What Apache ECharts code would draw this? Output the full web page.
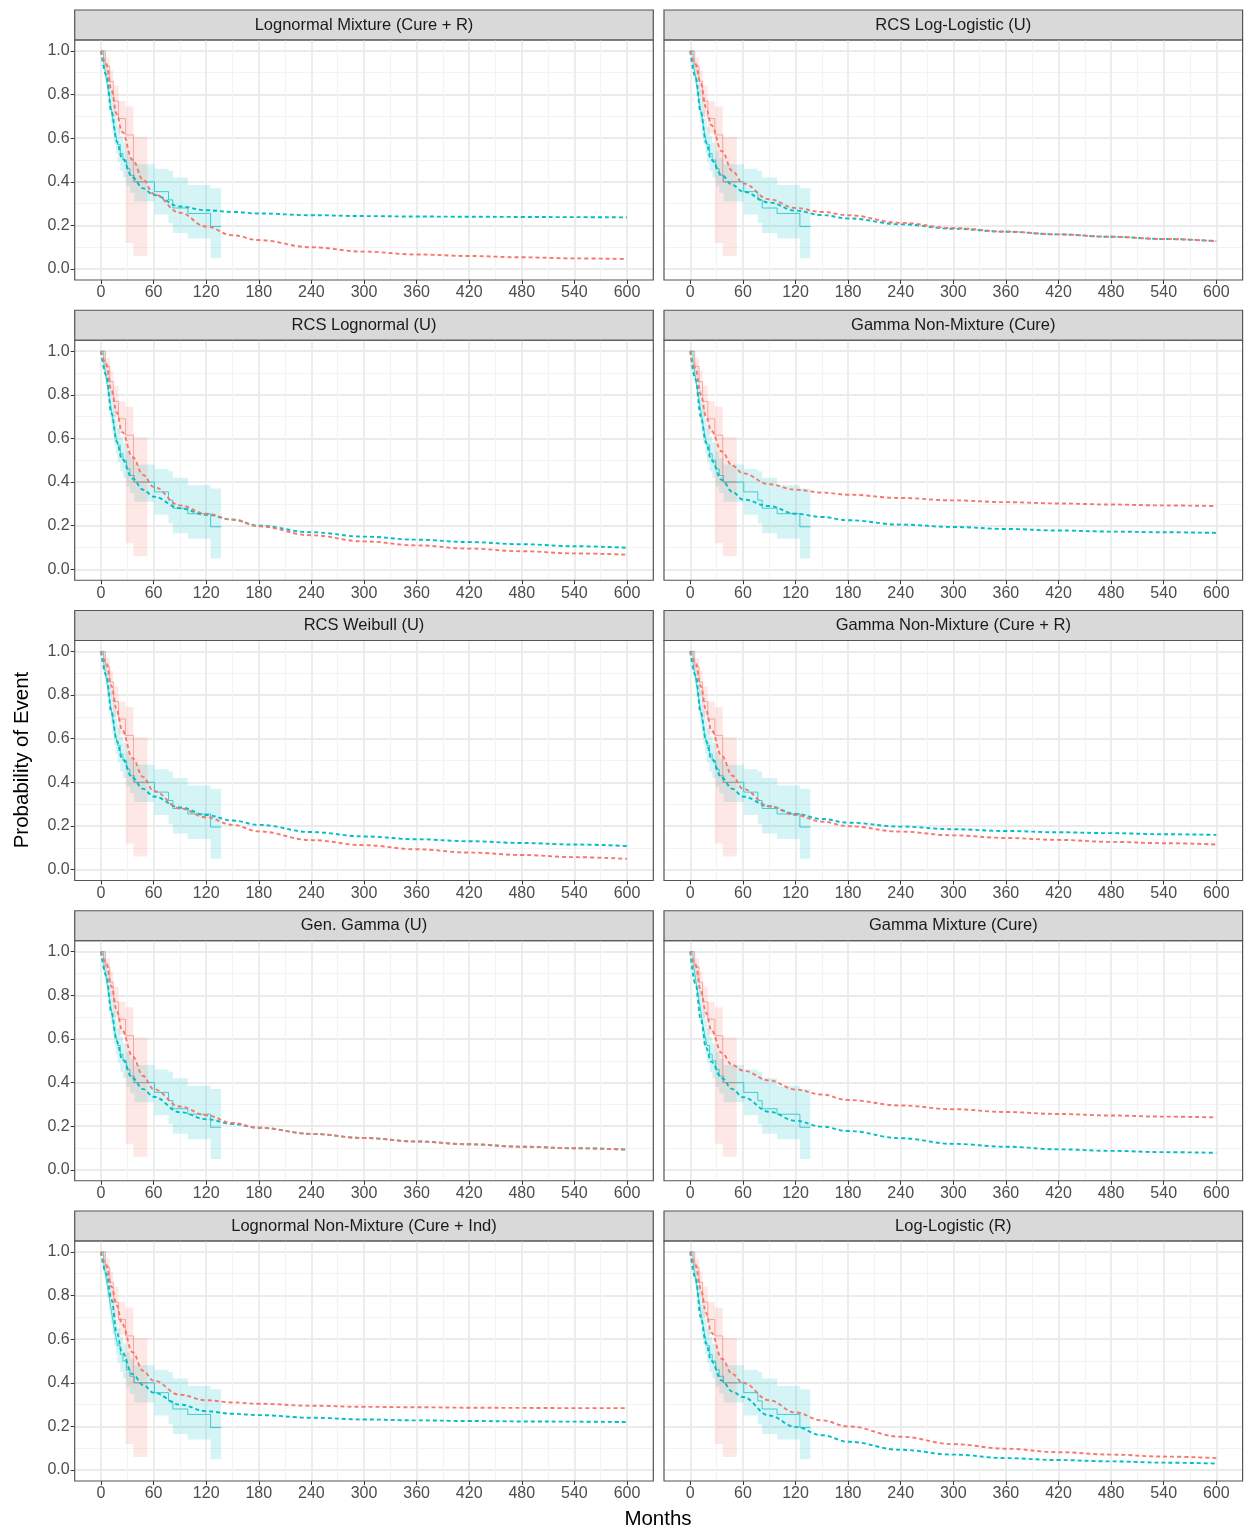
<!DOCTYPE html>
<html>
<head>
<meta charset="utf-8">
<script src="https://cdn.jsdelivr.net/npm/echarts@6/dist/echarts.min.js"></script>
<style>html,body{margin:0;padding:0;background:#fff}#c{width:1249px;height:1533px}</style>
</head>
<body>
<div id="c"></div>
<script>
// ---------------- DATA ----------------
const panelTitles = [
  'Lognormal Mixture (Cure + R)', 'RCS Log-Logistic (U)',
  'RCS Lognormal (U)', 'Gamma Non-Mixture (Cure)',
  'RCS Weibull (U)', 'Gamma Non-Mixture (Cure + R)',
  'Gen. Gamma (U)', 'Gamma Mixture (Cure)',
  'Lognormal Non-Mixture (Cure + Ind)', 'Log-Logistic (R)'
];
const xTicks = [0, 60, 120, 180, 240, 300, 360, 420, 480, 540, 600];
const yTicks = [0, 0.2, 0.4, 0.6, 0.8, 1.0];

// Kaplan-Meier estimates (same observed data in every panel)
const kmTealTime  = [0, 3, 5, 7, 9, 11, 13, 15, 17, 19, 22, 25, 29, 33, 38, 61, 77, 82, 99, 125, 137];
const kmTealSurv  = [1, 0.95, 0.90, 0.85, 0.80, 0.75, 0.70, 0.65, 0.61, 0.57, 0.53, 0.50, 0.46, 0.43, 0.40, 0.355, 0.317, 0.28, 0.255, 0.195, 0.195];
const kmTealLower = [1, 0.91, 0.85, 0.79, 0.73, 0.67, 0.62, 0.57, 0.53, 0.49, 0.45, 0.42, 0.38, 0.35, 0.31, 0.25, 0.21, 0.165, 0.14, 0.05, 0.05];
const kmTealUpper = [1, 0.99, 0.95, 0.91, 0.87, 0.82, 0.78, 0.73, 0.69, 0.65, 0.61, 0.58, 0.54, 0.51, 0.48, 0.46, 0.45, 0.42, 0.385, 0.37, 0.37];

const kmRedTime  = [0, 5, 10, 14, 20, 28, 37, 53];
const kmRedSurv  = [1, 0.93, 0.86, 0.77, 0.69, 0.615, 0.40, 0.40];
const kmRedLower = [1, 0.88, 0.80, 0.70, 0.62, 0.12, 0.06, 0.06];
const kmRedUpper = [1, 0.97, 0.91, 0.84, 0.77, 0.745, 0.607, 0.607];

// Fitted model curves, read at these months
const fitMonths = [0, 6, 12, 18, 24, 36, 48, 60, 90, 120, 150, 180, 240, 300, 360, 420, 480, 540, 600];

const fitTeal1 = [1, 0.89, 0.72, 0.585, 0.51, 0.42, 0.37, 0.34, 0.287, 0.27, 0.262, 0.255, 0.247, 0.243, 0.241, 0.240, 0.239, 0.238, 0.237];
const fitRed1  = [1, 0.94, 0.82, 0.71, 0.63, 0.50, 0.41, 0.345, 0.258, 0.195, 0.155, 0.133, 0.10, 0.08, 0.067, 0.06, 0.054, 0.049, 0.046];

const fitTeal2 = [1, 0.88, 0.72, 0.58, 0.50, 0.43, 0.385, 0.355, 0.305, 0.268, 0.248, 0.232, 0.205, 0.185, 0.171, 0.159, 0.148, 0.138, 0.128];
const fitRed2  = [1, 0.94, 0.85, 0.74, 0.66, 0.54, 0.45, 0.393, 0.32, 0.28, 0.262, 0.247, 0.212, 0.188, 0.172, 0.159, 0.148, 0.138, 0.128];

const fitTeal3 = [1, 0.89, 0.715, 0.585, 0.505, 0.416, 0.365, 0.333, 0.28, 0.25, 0.228, 0.20, 0.170, 0.150, 0.136, 0.125, 0.115, 0.106, 0.099];
const fitRed3  = [1, 0.94, 0.82, 0.72, 0.63, 0.515, 0.433, 0.378, 0.293, 0.255, 0.228, 0.197, 0.156, 0.128, 0.11, 0.095, 0.083, 0.073, 0.067];

const fitTeal4 = [1, 0.87, 0.70, 0.58, 0.50, 0.41, 0.355, 0.32, 0.29, 0.255, 0.24, 0.225, 0.205, 0.194, 0.185, 0.178, 0.173, 0.170, 0.167];
const fitRed4  = [1, 0.92, 0.80, 0.70, 0.635, 0.54, 0.475, 0.44, 0.39, 0.365, 0.352, 0.342, 0.327, 0.316, 0.308, 0.302, 0.297, 0.293, 0.29];

const fitTeal5 = [1, 0.89, 0.72, 0.59, 0.51, 0.42, 0.37, 0.335, 0.285, 0.25, 0.225, 0.205, 0.172, 0.152, 0.139, 0.13, 0.122, 0.115, 0.108];
const fitRed5  = [1, 0.95, 0.84, 0.73, 0.64, 0.51, 0.425, 0.36, 0.28, 0.24, 0.205, 0.175, 0.135, 0.112, 0.093, 0.078, 0.067, 0.057, 0.049];

const fitTeal6 = [1, 0.89, 0.72, 0.59, 0.51, 0.42, 0.37, 0.335, 0.29, 0.255, 0.232, 0.215, 0.197, 0.185, 0.177, 0.171, 0.167, 0.162, 0.159];
const fitRed6  = [1, 0.95, 0.84, 0.73, 0.64, 0.52, 0.43, 0.37, 0.29, 0.25, 0.22, 0.199, 0.174, 0.157, 0.145, 0.136, 0.127, 0.121, 0.115];

const fitTeal7 = [1, 0.89, 0.72, 0.59, 0.51, 0.42, 0.37, 0.335, 0.264, 0.232, 0.21, 0.193, 0.165, 0.146, 0.13, 0.117, 0.106, 0.099, 0.093];
const fitRed7  = [1, 0.95, 0.84, 0.73, 0.64, 0.52, 0.43, 0.37, 0.29, 0.25, 0.215, 0.193, 0.165, 0.146, 0.13, 0.117, 0.106, 0.099, 0.093];

const fitTeal8 = [1, 0.85, 0.69, 0.56, 0.495, 0.42, 0.37, 0.333, 0.266, 0.225, 0.198, 0.178, 0.145, 0.119, 0.106, 0.094, 0.087, 0.081, 0.078];
const fitRed8  = [1, 0.94, 0.82, 0.72, 0.64, 0.535, 0.48, 0.455, 0.41, 0.368, 0.345, 0.32, 0.295, 0.278, 0.265, 0.256, 0.249, 0.244, 0.24];

const fitTeal9 = [1, 0.90, 0.78, 0.63, 0.54, 0.44, 0.39, 0.355, 0.30, 0.27, 0.258, 0.252, 0.24, 0.232, 0.228, 0.225, 0.223, 0.222, 0.22];
const fitRed9  = [1, 0.94, 0.84, 0.755, 0.67, 0.54, 0.455, 0.41, 0.345, 0.32, 0.31, 0.304, 0.295, 0.29, 0.288, 0.286, 0.285, 0.284, 0.284];

const fitTeal10 = [1, 0.88, 0.70, 0.58, 0.50, 0.41, 0.36, 0.335, 0.25, 0.198, 0.16, 0.13, 0.093, 0.071, 0.055, 0.046, 0.04, 0.034, 0.03];
const fitRed10  = [1, 0.94, 0.83, 0.72, 0.63, 0.51, 0.44, 0.40, 0.32, 0.264, 0.228, 0.20, 0.153, 0.119, 0.098, 0.082, 0.071, 0.062, 0.055];

const fitTeal = [fitTeal1, fitTeal2, fitTeal3, fitTeal4, fitTeal5, fitTeal6, fitTeal7, fitTeal8, fitTeal9, fitTeal10];
const fitRed  = [fitRed1, fitRed2, fitRed3, fitRed4, fitRed5, fitRed6, fitRed7, fitRed8, fitRed9, fitRed10];

// ---------------- STYLE / LAYOUT ----------------
const FONT = '"Liberation Sans", Arial, Helvetica, sans-serif';
const RED = '#F8766D', TEAL = '#00BFC4';
const panelLeftX = [74.7, 664];
const panelW = 578.6;
const plotTop0 = 40, rowPitch = 300.25, plotH = 240, stripH = 30;

const pairs = (xs, ys) => xs.map((x, i) => [x, ys[i]]);

function ribbonSeries(gi, time, lower, upper, color) {
  return {
    type: 'custom', xAxisIndex: gi, yAxisIndex: gi, silent: true, z: 1,
    data: [[0, 0]],
    renderItem: function (params, api) {
      const pts = [];
      for (let i = 0; i < time.length - 1; i++) {
        pts.push(api.coord([time[i], upper[i]]));
        pts.push(api.coord([time[i + 1], upper[i]]));
      }
      for (let i = time.length - 2; i >= 0; i--) {
        pts.push(api.coord([time[i + 1], lower[i]]));
        pts.push(api.coord([time[i], lower[i]]));
      }
      return { type: 'polygon', shape: { points: pts }, style: { fill: color } };
    }
  };
}

const grids = [], xAxes = [], yAxes = [], series = [], graphics = [];

panelTitles.forEach(function (title, p) {
  const r = Math.floor(p / 2), c = p % 2;
  const left = panelLeftX[c];
  const top = plotTop0 + r * rowPitch;
  const pxMonth = panelW / 660;
  const innerLeft = left + 30 * pxMonth;
  const innerW = 600 * pxMonth;
  const pxUnit = plotH / 1.1;
  const innerTop = top + 0.05 * pxUnit;

  // grid for vertical grid lines + x labels
  const gV = grids.length;
  grids.push({ left: innerLeft, top: top, width: innerW, height: plotH });
  xAxes.push({
    gridIndex: gV, type: 'value', min: 0, max: 600, interval: 60,
    axisLine: { show: false },
    axisTick: { show: true, length: 4, lineStyle: { color: '#333333', width: 1 } },
    axisLabel: { show: true, margin: 5, fontSize: 16, color: '#4D4D4D', fontFamily: FONT },
    splitLine: { show: true, lineStyle: { color: '#EBEBEB', width: 1.8 } },
    minorTick: { show: false, splitNumber: 2 },
    minorSplitLine: { show: true, lineStyle: { color: '#F3F3F3', width: 1.2 } }
  });
  yAxes.push({ gridIndex: gV, type: 'value', min: 0, max: 1, show: false });

  // grid for horizontal grid lines + y labels
  const gH = grids.length;
  grids.push({ left: left, top: innerTop, width: panelW, height: pxUnit });
  xAxes.push({ gridIndex: gH, type: 'value', min: 0, max: 1, show: false });
  yAxes.push({
    gridIndex: gH, type: 'value', min: 0, max: 1, interval: 0.2,
    axisLine: { show: false },
    axisTick: { show: c === 0, length: 4, lineStyle: { color: '#333333', width: 1 } },
    axisLabel: { show: c === 0, margin: 5, fontSize: 16, color: '#4D4D4D', fontFamily: FONT,
      formatter: function (v) { return v.toFixed(1); } },
    splitLine: { show: true, lineStyle: { color: '#EBEBEB', width: 1.8 } },
    minorTick: { show: false, splitNumber: 2 },
    minorSplitLine: { show: true, lineStyle: { color: '#F3F3F3', width: 1.2 } }
  });

  // data grid
  const gD = grids.length;
  grids.push({ left: left, top: top, width: panelW, height: plotH, show: true,
    borderColor: '#555555', borderWidth: 1.2, backgroundColor: 'transparent', z: 3 });
  xAxes.push({ gridIndex: gD, type: 'value', min: -30, max: 630, show: false });
  yAxes.push({ gridIndex: gD, type: 'value', min: -0.05, max: 1.05, show: false });

  series.push(ribbonSeries(gD, kmTealTime, kmTealLower, kmTealUpper, 'rgba(0,191,196,0.17)'));
  series.push(ribbonSeries(gD, kmRedTime, kmRedLower, kmRedUpper, 'rgba(248,118,109,0.17)'));
  series.push({ type: 'line', xAxisIndex: gD, yAxisIndex: gD, step: 'end', symbol: 'none', silent: true, z: 2,
    data: pairs(kmTealTime, kmTealSurv), lineStyle: { color: TEAL, width: 1, opacity: 0.7 } });
  series.push({ type: 'line', xAxisIndex: gD, yAxisIndex: gD, step: 'end', symbol: 'none', silent: true, z: 2,
    data: pairs(kmRedTime, kmRedSurv), lineStyle: { color: RED, width: 1, opacity: 0.6 } });
  series.push({ type: 'line', xAxisIndex: gD, yAxisIndex: gD, smooth: 0.4, smoothMonotone: 'x', symbol: 'none', silent: true, z: 3,
    data: pairs(fitMonths, fitTeal[p]), lineStyle: { color: TEAL, width: 1.9, type: [4, 3] } });
  series.push({ type: 'line', xAxisIndex: gD, yAxisIndex: gD, smooth: 0.4, smoothMonotone: 'x', symbol: 'none', silent: true, z: 3,
    data: pairs(fitMonths, fitRed[p]), lineStyle: { color: RED, width: 1.9, type: [4, 3] } });

  // strip
  graphics.push({ type: 'rect', shape: { x: left, y: top - stripH, width: panelW, height: stripH },
    style: { fill: '#D9D9D9', stroke: '#555555', lineWidth: 1.2 } });
  graphics.push({ type: 'text', x: left + panelW / 2, y: top - stripH / 2,
    style: { text: title, fill: '#1A1A1A', font: '16.5px ' + FONT, textAlign: 'center', textVerticalAlign: 'middle' } });
});

graphics.push({ type: 'text', x: 658, y: 1519,
  style: { text: 'Months', fill: '#000', font: '20.5px ' + FONT, textAlign: 'center', textVerticalAlign: 'middle' } });
graphics.push({ type: 'text', x: 22, y: 760, rotation: Math.PI / 2,
  style: { text: 'Probability of Event', fill: '#000', font: '20.5px ' + FONT, textAlign: 'center', textVerticalAlign: 'middle' } });

const chart = echarts.init(document.getElementById('c'), null, { renderer: 'canvas' });
chart.setOption({
  animation: false,
  backgroundColor: '#fff',
  grid: grids, xAxis: xAxes, yAxis: yAxes, series: series,
  graphic: { elements: graphics }
});
</script>
</body>
</html>
